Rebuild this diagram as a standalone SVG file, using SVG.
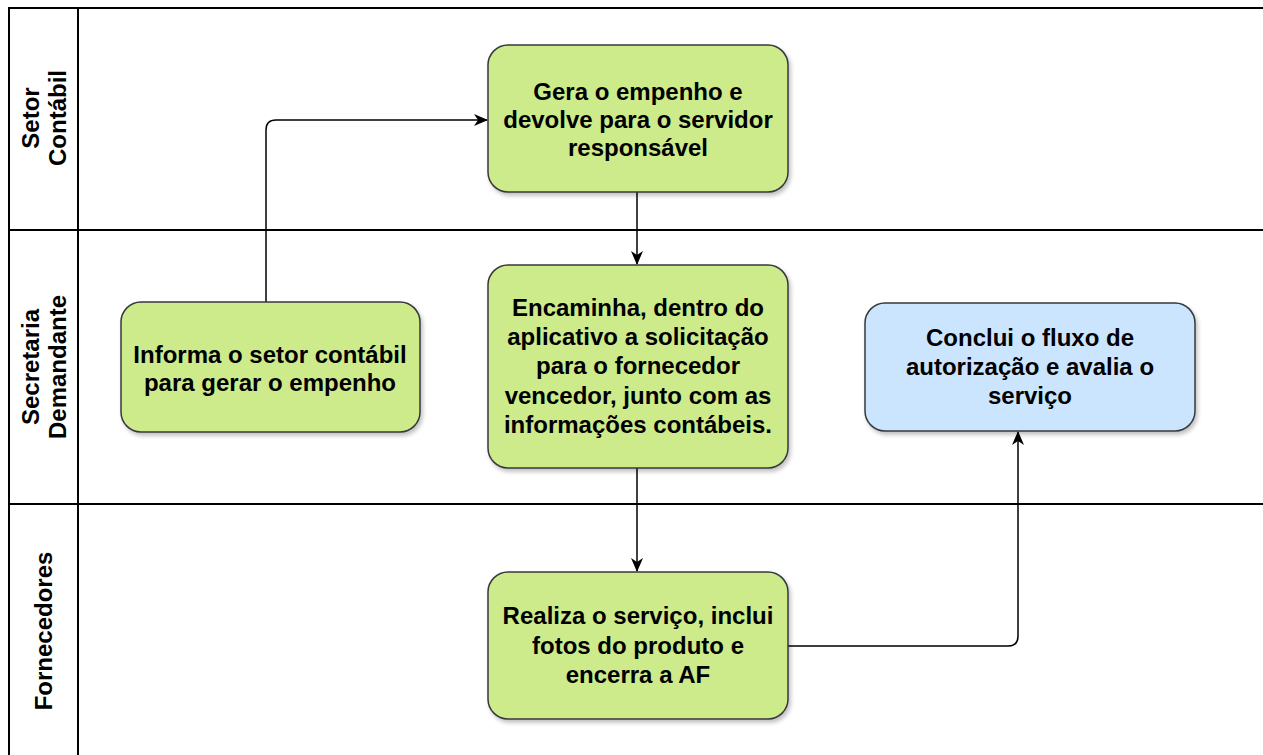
<svg xmlns="http://www.w3.org/2000/svg" width="1263" height="755" viewBox="0 0 1263 755">
<defs>
<style>
.lane{fill:none;stroke:#000;stroke-width:2}
.node{stroke:#36393d;stroke-width:1.5;filter:url(#sh)}
.g{fill:#cdeb8b}
.b{fill:#cce5ff}
.t{font-family:"Liberation Sans",Arial,sans-serif;font-weight:bold;font-size:24px;fill:#000;text-anchor:middle}
.lt{font-family:"Liberation Sans",Arial,sans-serif;font-weight:bold;font-size:24px;fill:#000;text-anchor:middle}
.c{fill:none;stroke:#000;stroke-width:1.5;marker-end:url(#ah)}
</style>
<filter id="sh" x="-10%" y="-10%" width="130%" height="130%">
<feGaussianBlur in="SourceAlpha" stdDeviation="2"/>
<feOffset dx="2" dy="3" result="o"/>
<feComponentTransfer><feFuncA type="linear" slope="0.25"/></feComponentTransfer>
<feMerge><feMergeNode/><feMergeNode in="SourceGraphic"/></feMerge>
</filter>
<marker id="ah" viewBox="0 0 14 12" refX="13" refY="6" markerWidth="14" markerHeight="12" markerUnits="userSpaceOnUse" orient="auto">
<path d="M0,0 L14,6 L0,12 L4,6 Z" fill="#000"/>
</marker>
</defs>
<rect width="1263" height="755" fill="#fff"/>
<g id="lanes">
<path class="lane" d="M1270,8 H9 V760 M78,8 V760 M9,230 H1270 M9,504 H1270"/>
<text class="lt" transform="translate(44,118) rotate(-90)"><tspan x="0" y="-5">Setor</tspan><tspan x="0" y="22">Contábil</tspan></text>
<text class="lt" transform="translate(44,367) rotate(-90)"><tspan x="0" y="-5">Secretaria</tspan><tspan x="0" y="22">Demandante</tspan></text>
<text class="lt" transform="translate(44,631) rotate(-90)"><tspan x="0" y="8">Fornecedores</tspan></text>
</g>
<g id="connectors">
<path class="c" d="M266,302 V130 Q266,120 276,120 H487"/>
<path class="c" d="M637,192 V264"/>
<path class="c" d="M637,468 V571"/>
<path class="c" d="M788,646 H1008 Q1018,646 1018,636 V432"/>
</g>
<g id="n-gera">
<rect class="node g" x="488" y="45" width="300" height="147" rx="20"/>
<text class="t"><tspan x="638" y="100">Gera o empenho e</tspan><tspan x="638" y="128">devolve para o servidor</tspan><tspan x="638" y="156">responsável</tspan></text>
</g>
<g id="n-informa">
<rect class="node g" x="121" y="302" width="299" height="130" rx="20"/>
<text class="t"><tspan x="270" y="363">Informa o setor contábil</tspan><tspan x="270" y="391">para gerar o empenho</tspan></text>
</g>
<g id="n-encaminha">
<rect class="node g" x="488" y="265" width="300" height="203" rx="20"/>
<text class="t"><tspan x="638" y="316">Encaminha, dentro do</tspan><tspan x="638" y="345">aplicativo a solicitação</tspan><tspan x="638" y="374">para o fornecedor</tspan><tspan x="638" y="404">vencedor, junto com as</tspan><tspan x="638" y="433">informações contábeis.</tspan></text>
</g>
<g id="n-conclui">
<rect class="node b" x="865" y="303" width="330" height="128" rx="20"/>
<text class="t"><tspan x="1030" y="346">Conclui o fluxo de</tspan><tspan x="1030" y="375">autorização e avalia o</tspan><tspan x="1030" y="404">serviço</tspan></text>
</g>
<g id="n-realiza">
<rect class="node g" x="488" y="572" width="300" height="147" rx="20"/>
<text class="t"><tspan x="638" y="624">Realiza o serviço, inclui</tspan><tspan x="638" y="654">fotos do produto e</tspan><tspan x="638" y="683">encerra a AF</tspan></text>
</g>
</svg>
